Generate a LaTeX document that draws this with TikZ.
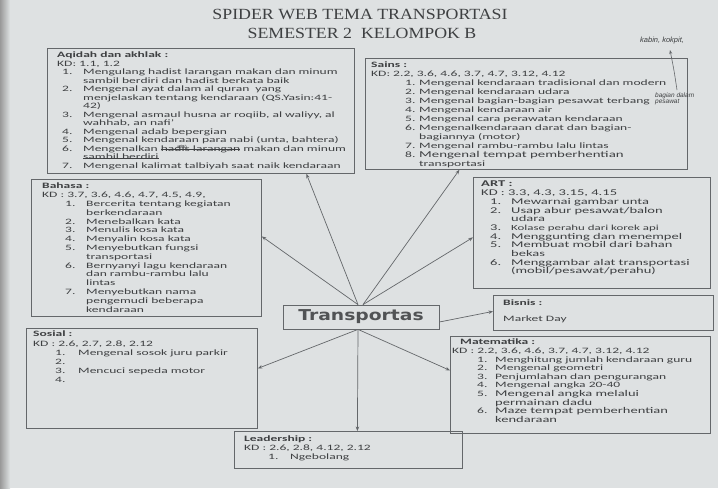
\documentclass[tikz,border=0pt]{standalone}
\usepackage{fontspec}
\setmainfont[FakeStretch=1.65]{Carlito}
\newfontfamily\titlefont[FakeStretch=1.15]{Liberation Serif}
\newfontfamily\transfont[FakeStretch=1.25]{DejaVu Sans}
\newfontfamily\handfont{Liberation Sans}
\usetikzlibrary{arrows.meta}
\definecolor{paper}{RGB}{222,225,226}
\definecolor{ink}{RGB}{62,64,66}
\definecolor{frame}{RGB}{100,103,106}
\newcommand\li[3]{\hspace*{#1}\makebox[#2][l]{#3}}
\newsavebox\strkbox
\newcommand\strk[1]{\sbox\strkbox{#1}\rlap{\usebox\strkbox}\rule[2pt]{\wd\strkbox}{0.4pt}}
\tikzset{
  boxnode/.style={draw=frame, line width=0.8pt, inner sep=0pt, anchor=north west},
  txt/.style={inner sep=0pt, anchor=north west, align=left, text=ink, font=\fontsize{8.2}{8.5}\selectfont},
  conn/.style={draw=frame, line width=0.7pt, -{Stealth[length=4.5pt,width=3.5pt]}},
  hand/.style={inner sep=0pt, text=ink, font=\handfont\itshape\fontsize{7.5}{7}\selectfont, align=left}
}
\begin{document}
\begin{tikzpicture}[x=1pt,y=-1pt]
\useasboundingbox (0,0) rectangle (718,488);
\fill[paper] (0,0) rectangle (718,488);
\fill[left color=black!40, right color=paper] (0,0) rectangle (10,488);

% title
\node[text=ink, font=\titlefont\fontsize{15.5}{15}\selectfont] (t1) at (360,14) {SPIDER WEB TEMA TRANSPORTASI};
\node[text=ink, font=\titlefont\fontsize{15.5}{15}\selectfont] (t2) at (362,33) {SEMESTER 2\ \ KELOMPOK B};

% boxes
\node[boxnode, minimum width=307pt, minimum height=125pt] (aqidah) at (47,48) {};
\node[boxnode, minimum width=322pt, minimum height=111pt] (sains) at (365,58) {};
\node[boxnode, minimum width=230pt, minimum height=137pt] (bahasa) at (31,179) {};
\node[boxnode, minimum width=237pt, minimum height=111pt] (art) at (473,177) {};
\node[boxnode, minimum width=220pt, minimum height=35pt] (bisnis) at (493,295) {};
\node[boxnode, minimum width=260pt, minimum height=97pt] (mat) at (450,336) {};
\node[boxnode, minimum width=231pt, minimum height=100pt] (sosial) at (26,328) {};
\node[boxnode, minimum width=228pt, minimum height=37pt] (lead) at (234,431) {};
\node[draw=frame, line width=0.8pt, minimum width=156pt, minimum height=24pt, inner sep=0pt,
      text=ink!90, font=\transfont\bfseries\fontsize{15}{15}\selectfont] (trans) at (361,317) {Transportas};

% texts
\node[txt] (aqidahT) at (57,52) {%
\textbf{Aqidah dan akhlak :}\\
KD: 1.1, 1.2\\
\li{5pt}{21pt}{1.}Mengulang hadist larangan makan dan minum\\
\hspace*{26pt}sambil berdiri dan hadist berkata baik\\
\li{5pt}{21pt}{2.}Mengenal ayat dalam al quran\ \ yang\\
\hspace*{26pt}menjelaskan tentang kendaraan (QS.Yasin:41-\\
\hspace*{26pt}42)\\
\li{5pt}{21pt}{3.}Mengenal asmaul husna ar roqiib, al waliyy, al\\
\hspace*{26pt}wahhab, an nafi'\\
\li{5pt}{21pt}{4.}Mengenal adab bepergian\\
\li{5pt}{21pt}{5.}Mengenal kendaraan para nabi (unta, bahtera)\\
\li{5pt}{21pt}{6.}Mengenalkan \makebox[0pt][l]{\hspace*{16pt}\raisebox{2.6pt}{\handfont\itshape\fontsize{4.5}{4}\selectfont adab}}\strk{hadis larangan} makan dan minum\\
\hspace*{26pt}\strk{sambil berdiri}\\
\li{5pt}{21pt}{7.}Mengenal kalimat talbiyah saat naik kendaraan};

\node[txt, font=\fontsize{8.2}{9}\selectfont] (sainsT) at (371,62) {%
\textbf{Sains :}\\
KD: 2.2, 3.6, 4.6, 3.7, 4.7, 3.12, 4.12\\
\li{34pt}{14pt}{1.}Mengenal kendaraan tradisional dan modern\\
\li{34pt}{14pt}{2.}Mengenal kendaraan udara\\
\li{34pt}{14pt}{3.}Mengenal bagian-bagian pesawat terbang\\
\li{34pt}{14pt}{4.}Mengenal kendaraan air\\
\li{34pt}{14pt}{5.}Mengenal cara perawatan kendaraan\\
\li{34pt}{14pt}{6.}Mengenalkendaraan darat dan bagian-\\
\hspace*{48pt}bagiannya (motor)\\
\li{34pt}{14pt}{7.}Mengenal rambu-rambu lalu lintas\\
\li{34pt}{14pt}{8.}{\fontsize{9}{9}\selectfont Mengenal tempat pemberhentian}\\
\hspace*{48pt}transportasi};

\node[txt, font=\fontsize{8.2}{8.8}\selectfont] (bahasaT) at (42,183) {%
\textbf{Bahasa :}\\
KD : 3.7, 3.6, 4.6, 4.7, 4.5, 4.9,\\
\li{23pt}{21pt}{1.}Bercerita tentang kegiatan\\
\hspace*{44pt}berkendaraan\\
\li{23pt}{21pt}{2.}Menebalkan kata\\
\li{23pt}{21pt}{3.}Menulis kosa kata\\
\li{23pt}{21pt}{4.}Menyalin kosa kata\\
\li{23pt}{21pt}{5.}Menyebutkan fungsi\\
\hspace*{44pt}transportasi\\
\li{23pt}{21pt}{6.}Bernyanyi lagu kendaraan\\
\hspace*{44pt}dan rambu-rambu lalu\\
\hspace*{44pt}lintas\\
\li{23pt}{21pt}{7.}Menyebutkan nama\\
\hspace*{44pt}pengemudi beberapa\\
\hspace*{44pt}kendaraan};

\node[txt, font=\fontsize{8.8}{8.7}\selectfont] (artT) at (481,181) {%
\textbf{ART :}\\
KD : 3.3, 4.3, 3.15, 4.15\\
\li{9pt}{21pt}{1.}Mewarnai gambar unta\\
\li{9pt}{21pt}{2.}Usap abur pesawat/balon\\
\hspace*{30pt}udara\\
\li{9pt}{21pt}{3.}{\fontsize{7.8}{8.6}\selectfont Kolase perahu dari korek api}\\
\li{9pt}{21pt}{4.}Menggunting dan menempel\\
\li{9pt}{21pt}{5.}Membuat mobil dari bahan\\
\hspace*{30pt}bekas\\
\li{9pt}{21pt}{6.}Menggambar alat transportasi\\
\hspace*{30pt}(mobil/pesawat/perahu)};

\node[txt, font=\fontsize{8.2}{8}\selectfont] (bisnisT) at (503,300) {%
\textbf{Bisnis :}\\[8pt]
Market Day};

\node[txt, font=\fontsize{8.2}{8.6}\selectfont] (matT) at (452,339) {%
\hspace*{8pt}\textbf{Matematika :}\\
KD : 2.2, 3.6, 4.6, 3.7, 4.7, 3.12, 4.12\\
\li{25pt}{18pt}{1.}Menghitung jumlah kendaraan guru\\
\li{25pt}{18pt}{2.}Mengenal geometri\\
\li{25pt}{18pt}{3.}Penjumlahan dan pengurangan\\
\li{25pt}{18pt}{4.}Mengenal angka 20-40\\
\li{25pt}{18pt}{5.}{\fontsize{8.8}{8.6}\selectfont Mengenal angka melalui}\\
\hspace*{43pt}{\fontsize{8.8}{8.6}\selectfont permainan dadu}\\
\li{25pt}{18pt}{6.}{\fontsize{8.8}{8.6}\selectfont Maze tempat pemberhentian}\\
\hspace*{43pt}{\fontsize{8.8}{8.6}\selectfont kendaraan}};

\node[txt, font=\fontsize{8.2}{9.2}\selectfont] (sosialT) at (33,331) {%
\textbf{Sosial :}\\
KD : 2.6, 2.7, 2.8, 2.12\\
\li{22pt}{23pt}{1.}Mengenal sosok juru parkir\\
\li{22pt}{23pt}{2.}\\
\li{22pt}{23pt}{3.}Mencuci sepeda motor\\
\li{22pt}{23pt}{4.}};

\node[txt, font=\fontsize{8.2}{9}\selectfont] (leadT) at (244,436) {%
\textbf{Leadership :}\\
KD : 2.6, 2.8, 4.12, 2.12\\
\li{24pt}{22pt}{1.}Ngebolang};

% handwritten notes
\node[hand, anchor=west] (kabin) at (640,41) {kabin, kokpit,};
\node[hand, anchor=north west, font=\handfont\itshape\fontsize{6.5}{6}\selectfont] (bagian) at (655,93) {bagian dalam\\pesawat};
\coordinate (hwstart) at (677,90);
\coordinate (hwend) at (670,50);
\draw[frame, line width=0.6pt, -{Stealth[length=4pt,width=3pt]}] (hwstart) .. controls (674,70) .. (hwend);

% connectors
\draw[conn] ([xshift=-3pt]trans.north) -- ([xshift=105.5pt]aqidah.south);
\draw[conn] ([xshift=-3pt]trans.north) -- ([yshift=11.5pt]bahasa.east);
\draw[conn] ([xshift=2pt]trans.north) -- ([xshift=-67pt]sains.south);
\draw[conn] ([xshift=2pt]trans.north) -- ([yshift=-4.5pt]art.west);
\draw[conn] ([yshift=-5pt]trans.east) -- ([yshift=1.5pt]bisnis.west);
\draw[conn] ([xshift=-3pt]trans.south) -- ([yshift=10pt]sosial.east);
\draw[conn] ([xshift=-3pt]trans.south) -- ([yshift=14.5pt]mat.west);
\draw[conn] ([xshift=-3pt]trans.south) -- ([xshift=9pt]lead.north);
\end{tikzpicture}
\end{document}
